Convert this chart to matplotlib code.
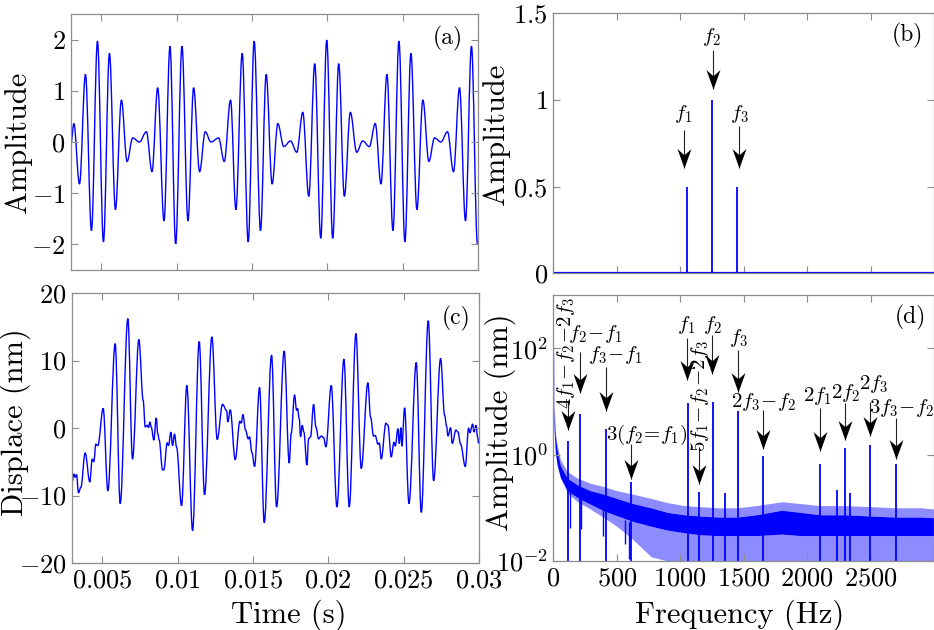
import numpy as np
import matplotlib
matplotlib.use('Agg')
import matplotlib.pyplot as plt
from matplotlib.path import Path
from matplotlib.patches import PathPatch

plt.rcParams['font.family'] = 'serif'
plt.rcParams['font.serif'] = ['cmr10']
plt.rcParams['mathtext.fontset'] = 'cm'
plt.rcParams['axes.unicode_minus'] = False

# ---------------- data ----------------
# (a) input signal: extrema
a_time = [0.00301, 0.003188, 0.003563, 0.00396, 0.004358, 0.004755, 0.005152, 0.00555, 0.005947,
          0.006344, 0.00672, 0.007095, 0.007536, 0.008, 0.008375, 0.00875, 0.00917, 0.009567,
          0.009943, 0.010362, 0.01076, 0.011134, 0.011532, 0.011907, 0.012283, 0.01279, 0.013166,
          0.013585, 0.013938, 0.014358, 0.014755, 0.015152, 0.015572, 0.015947, 0.016344, 0.01672,
          0.017117, 0.017558, 0.017978, 0.018375, 0.018773, 0.01917, 0.019567, 0.019965, 0.020362,
          0.02076, 0.021135, 0.021532, 0.021952, 0.022349, 0.02279, 0.023187, 0.023563, 0.02396,
          0.024358, 0.024755, 0.025152, 0.02555, 0.025947, 0.026344, 0.026742, 0.027117, 0.027536,
          0.027978, 0.028375, 0.028773, 0.02917, 0.029567, 0.029964]
a_value = [0.0, 0.36, -0.82, 1.32, -1.73, 1.97, -1.95, 1.73, -1.32, 0.82, -0.38, 0.08, 0.0, 0.2,
           -0.58, 1.06, -1.54, 1.87, -1.99, 1.87, -1.54, 1.06, -0.58, 0.2, 0.0, 0.08, -0.38, 0.82,
           -1.32, 1.73, -1.95, 1.97, -1.73, 1.32, -0.82, 0.36, -0.09, 0.02, -0.2, 0.58, -1.06, 1.53,
           -1.88, 1.99, -1.88, 1.53, -1.06, 0.58, -0.2, 0.02, -0.09, 0.36, -0.82, 1.32, -1.73, 1.97,
           -1.95, 1.73, -1.32, 0.82, -0.38, 0.08, 0.0, 0.2, -0.58, 1.06, -1.54, 1.87, -1.99]

# (b) input spectrum
b_freq = [1050, 1250, 1450]
b_amp = [0.5, 1.0, 0.5]

c_time = [0.003011, 0.003122, 0.00321, 0.003299, 0.003432, 0.003587, 0.003874, 0.004184, 0.004338,
          0.004449, 0.004582, 0.004715, 0.005069, 0.005378, 0.005865, 0.006197, 0.006705, 0.007015,
          0.007435, 0.007723, 0.007856, 0.007988, 0.008077, 0.008165, 0.008254, 0.008431, 0.008585,
          0.008696, 0.008785, 0.009006, 0.009094, 0.009315, 0.009404, 0.009559, 0.009669, 0.009802,
          0.009935, 0.010267, 0.01062, 0.010997, 0.011439, 0.011793, 0.012279, 0.012633, 0.012987,
          0.013253, 0.013341, 0.013496, 0.013827, 0.014137, 0.014226, 0.014336, 0.014514, 0.01469,
          0.014779, 0.014934, 0.015111, 0.015443, 0.015752, 0.016239,
          0.016571, 0.017079, 0.017411, 0.017543, 0.017765, 0.017898, 0.017964, 0.018074, 0.018163,
          0.018273, 0.018384, 0.018583, 0.018694, 0.018827, 0.019026, 0.01918, 0.019358, 0.019534,
          0.019689, 0.019844, 0.020198, 0.020574, 0.021038, 0.021392, 0.021835, 0.022188, 0.022631,
          0.022808, 0.023007, 0.023117, 0.023295, 0.023383, 0.023516, 0.023825, 0.023958, 0.024179,
          0.024356, 0.024445, 0.024622, 0.02471, 0.024821, 0.024887, 0.025064, 0.025352, 0.025838,
          0.02617, 0.026634, 0.026989, 0.027453, 0.027719, 0.027852, 0.02794, 0.028117, 0.028227,
          0.02847, 0.028603, 0.02878, 0.029089, 0.029311, 0.0294, 0.029577, 0.029665, 0.029798,
          0.029908, 0.029975]
c_value = [-8.0, -6.8, -7.3, -6.9, -9.6, -8.8, -3.7, -8.0, -4.6,
           -5.0, -2.4, -2.6, 2.9, -9.3, 12.5, -11.2, 16.2, -4.6,
           13.1, 4.1, 0.15, 0.4, 0.05, 0.9, 0.15, -1.8, 1.5,
           -0.9, -1.8, -6.2, -6.2, -2.2, -2.6, -0.6, -2.6, -0.9,
           -2.8, -11.5, 6.3, -15.2, 12.8, -9.9, 13.5, -1.7, 3.5,
           2.6, 0.9, 2.7, -4.7, 1.0, 0.7, 2.0, -0.3, -1.6,
           -1.3, -3.6, -5.7, 6.0, -14.0, 10.8,
           -11.7, 11.4, -5.2, -0.8, 4.9, 2.6, 2.9, 1.4, -1.3,
           0.4, -0.6, -5.5, -1.6, -1.3, 3.5, 0.15, -1.6, -1.2,
           -1.4, -2.8, 6.3, -11.7, 10.2, -11.7, 14.0, -6.0, 6.7,
           1.6, -1.2, -1.1, -2.4, -2.2, -4.6, 0.7, 0.4, -4.3,
           -2.1, -2.7, -0.1, -2.3, 0.05, -2.7, 3.0, -11.2, 9.7,
           -12.5, 15.9, -7.8, 10.3, 1.9, 0.25, -1.2, 0.05, -2.3,
           -0.3, -0.6, -2.4, -5.7, 0.0, -0.7, 0.6, -0.6, 0.4,
           -1.3, -2.3]

# (d) measured spectrum: discrete peaks, a few deep dips and the noise-floor envelopes
d_peak_freq = [112, 209, 414, 608, 1058, 1151, 1255, 1352, 1457, 1654, 2102, 2238, 2301, 2340, 2498, 2700]
d_peak_amp = [1.8, 5.9, 3.0, 0.31, 9.3, 0.2, 9.6, 0.19, 6.5, 0.95, 0.66, 0.22, 1.33, 0.19, 1.5, 0.67]
d_dip_freq = [130, 215, 388, 563, 597]
d_dip_low = [0.042, 0.04, 0.03, 0.021, 0.011]
d_dip_high = [0.2, 0.15, 0.09, 0.06, 0.055]
noise_freq = [0, 5, 15, 30, 55, 110, 190, 290, 400, 500, 630, 770, 900, 1030, 1160, 1300, 1450,
              1600, 1800, 1950, 2100, 2300, 2500, 2700, 2900, 3000]
noise_peak = [220, 9.0, 2.6, 1.5, 0.8, 0.48, 0.36, 0.29, 0.25, 0.21, 0.18, 0.15, 0.125, 0.11,
              0.105, 0.1, 0.1, 0.11, 0.13, 0.12, 0.11, 0.11, 0.105, 0.1, 0.1, 0.095]
noise_top = [220, 7.9, 2.2, 1.2, 0.62, 0.36, 0.27, 0.21, 0.18, 0.15, 0.12, 0.1, 0.082, 0.074,
             0.07, 0.067, 0.067, 0.074, 0.09, 0.082, 0.074, 0.074, 0.07, 0.067, 0.067, 0.065]
noise_dense_low = [50, 3.2, 1.1, 0.63, 0.37, 0.21, 0.155, 0.117, 0.087, 0.071, 0.055, 0.045, 0.038,
                   0.034, 0.031, 0.03, 0.03, 0.03, 0.032, 0.03, 0.03, 0.03, 0.03, 0.03, 0.03, 0.03]
noise_min = [50, 3.2, 1.1, 0.63, 0.37, 0.19, 0.13, 0.095, 0.065, 0.045, 0.025, 0.012, 0.01, 0.01,
             0.01, 0.01, 0.01, 0.01, 0.01, 0.01, 0.01, 0.01, 0.01, 0.01, 0.01, 0.01]

time_ticks = [0.005, 0.01, 0.015, 0.02, 0.025, 0.03]
time_ticklabels = ['0.005', '0.01', '0.015', '0.02', '0.025', '0.03']
a_yticks = [-2, -1, 0, 1, 2]
b_yticks = [0, 0.5, 1, 1.5]
b_yticklabels = ['0', '0.5', '1', '1.5']
c_yticks = [-20, -10, 0, 10, 20]
freq_ticks = [0, 500, 1000, 1500, 2000, 2500]
d_yticks = [1e-2, 1e0, 1e2]
d_yticklabels = ['$10^{-2}$', '$10^{0}$', '$10^{2}$']

# ---------------- figure ----------------
W, H = 934, 630
fig = plt.figure(figsize=(W / 100, H / 100), dpi=100)

def box(l, t, r, b):
    return [l / W, 1 - b / H, (r - l) / W, (b - t) / H]

ax_a = fig.add_axes(box(71, 14, 478, 270))
ax_b = fig.add_axes(box(553.4, 13.3, 934, 273.3))
ax_c = fig.add_axes(box(72, 293, 479, 563))
ax_d = fig.add_axes(box(553.4, 295, 934, 561))

BLUE = '#0000ff'
SPINE = '#8c8c8c'
TICKFS = 19
LABELFS = 22
PANELFS = 17
ANNFS = 15

def num(v):
    return '$' + ('%g' % v) + '$'

for ax in (ax_a, ax_b, ax_c, ax_d):
    for s in ax.spines.values():
        s.set_color(SPINE)
        s.set_linewidth(0.9)
    ax.tick_params(direction='in', length=5, width=0.8, color=SPINE, labelcolor='black',
                   labelsize=TICKFS, top=True, right=True, pad=4)
    ax.minorticks_off()

def smooth_path(x, y, k=0.36):
    """Path through the read extrema, drawn with horizontal tangents at each point."""
    verts = [(x[0], y[0])]
    codes = [Path.MOVETO]
    for i in range(1, len(x)):
        dx = x[i] - x[i - 1]
        verts += [(x[i - 1] + k * dx, y[i - 1]), (x[i] - k * dx, y[i]), (x[i], y[i])]
        codes += [Path.CURVE4] * 3
    return Path(verts, codes)

# arrow head (stealth-like), tip at the origin, pointing down
HEAD = Path([(0, 0), (-0.36, 1.0), (0, 0.68), (0.36, 1.0), (0, 0)],
            [Path.MOVETO, Path.LINETO, Path.LINETO, Path.LINETO, Path.CLOSEPOLY])

def down_arrow(ax, x, y0, y1):
    ax.plot([x, x], [y0, y1], color='#222222', lw=0.8, solid_capstyle='butt')
    ax.plot([x], [y1], marker=HEAD, markersize=28, color='black', markeredgewidth=0, linestyle='none')

# (a)
ax_a.add_patch(PathPatch(smooth_path(a_time, a_value), fill=False, edgecolor=BLUE, lw=1.0))
ax_a.set_xlim(0.003, 0.03)
ax_a.set_ylim(-2.5, 2.5)
ax_a.set_xticks(time_ticks)
ax_a.set_xticklabels([])
ax_a.set_yticks(a_yticks)
ax_a.set_yticklabels([num(v) for v in a_yticks])
ax_a.set_ylabel('Amplitude', fontsize=LABELFS)
ax_a.yaxis.set_label_coords(-0.096, 0.5)
ax_a.text(0.927, 0.905, '(a)', transform=ax_a.transAxes, ha='center', va='center', fontsize=PANELFS)

# (b)
ax_b.axhline(0, color=BLUE, lw=1.6)
ax_b.vlines(b_freq, 0, b_amp, color=BLUE, lw=1.3)
ax_b.set_xlim(0, 3000)
ax_b.set_ylim(0, 1.5)
ax_b.set_xticks(freq_ticks)
ax_b.set_xticklabels([])
ax_b.set_yticks(b_yticks)
ax_b.set_yticklabels(['$' + s + '$' for s in b_yticklabels])
ax_b.set_ylabel('Amplitude', fontsize=LABELFS)
ax_b.yaxis.set_label_coords(-0.114, 0.536)
ax_b.text(0.929, 0.913, '(b)', transform=ax_b.transAxes, ha='center', va='center', fontsize=PANELFS)

b_ann = [('$f_1$', (1026, 0.92), 1027, 0.826, 0.606),
         ('$f_2$', (1242, 1.365), 1257, 1.288, 1.062),
         ('$f_3$', (1464, 0.92), 1462, 0.85, 0.606)]
for txt, pos, ax_x, y0, y1 in b_ann:
    ax_b.text(pos[0], pos[1], txt, ha='center', va='center', fontsize=ANNFS)
    down_arrow(ax_b, ax_x, y0, y1)

# (c)
ax_c.add_patch(PathPatch(smooth_path(c_time, c_value), fill=False, edgecolor=BLUE, lw=1.0))
ax_c.set_xlim(0.003, 0.03)
ax_c.set_ylim(-20, 20)
ax_c.set_xticks(time_ticks)
ax_c.set_xticklabels(['$' + s + '$' for s in time_ticklabels])
ax_c.set_yticks(c_yticks)
ax_c.set_yticklabels([num(v) for v in c_yticks])
ax_c.set_ylabel('Displace (nm)', fontsize=LABELFS)
ax_c.yaxis.set_label_coords(-0.101, 0.522)
ax_c.set_xlabel('Time (s)', fontsize=LABELFS, va='center')
ax_c.xaxis.set_label_coords(0.533, -0.193)
ax_c.text(0.943, 0.907, '(c)', transform=ax_c.transAxes, ha='center', va='center', fontsize=PANELFS)

# (d)
ax_d.set_yscale('log')
ax_d.fill_between(noise_freq, noise_min, noise_dense_low, color=BLUE, alpha=0.45, lw=0)
ax_d.fill_between(noise_freq, noise_top, noise_peak, color=BLUE, alpha=0.45, lw=0)
ax_d.fill_between(noise_freq, noise_dense_low, noise_top, color=BLUE, lw=0)
ax_d.vlines(d_dip_freq, d_dip_low, d_dip_high, color=BLUE, lw=1.0)
ax_d.vlines(d_peak_freq, 1e-2, d_peak_amp, color=BLUE, lw=1.3)
ax_d.set_xlim(0, 3000)
ax_d.set_ylim(1e-2, 1e3)
ax_d.set_xticks(freq_ticks)
ax_d.set_xticklabels([num(v) for v in freq_ticks])
ax_d.set_yticks(d_yticks)
ax_d.set_yticklabels(d_yticklabels)
ax_d.minorticks_off()
ax_d.set_ylabel('Amplitude (nm)', fontsize=LABELFS)
ax_d.yaxis.set_label_coords(-0.098, 0.523)
ax_d.set_xlabel('Frequency (Hz)', fontsize=LABELFS, va='center')
ax_d.xaxis.set_label_coords(0.488, -0.203)
ax_d.text(0.937, 0.917, '(d)', transform=ax_d.transAxes, ha='center', va='center', fontsize=PANELFS)

d_ann = [(r'$4f_1\!-\!f_2\!-\!2f_3$', (97, 80), 90, 112, 10.4, 2.84),
         (r'$f_2\!-\!f_1$', (327, 183), 0, 209, 84, 14.1),
         (r'$f_3\!-\!f_1$', (484, 74), 0, 414, 43.7, 6.6),
         (r'$3(f_2\!=\!f_1)$', (734, 2.38), 0, 608, 1.59, 0.348),
         (r'$f_1$', (1048, 272), 0, 1056, 154, 24.9),
         (r'$f_2$', (1251, 272), 0, 1252, 176, 33.3),
         (r'$f_3$', (1460, 154), 0, 1457, 91.7, 15.0),
         (r'$5f_1\!-\!f_2\!-\!2f_3$', (1153, 12.4), 90, 1147, 1.36, 0.28),
         (r'$2f_3\!-\!f_2$', (1656, 9.6), 0, 1654, 6.8, 1.28),
         (r'$2f_1$', (2077, 12.4), 0, 2102, 7.4, 1.19),
         (r'$2f_2$', (2300, 14.2), 0, 2301, 9.2, 1.89),
         (r'$2f_3$', (2522, 21), 0, 2498, 9.7, 2.28),
         (r'$3f_3\!-\!f_2$', (2742, 7.4), 0, 2700, 4.78, 0.83)]
for txt, pos, rot, ax_x, y0, y1 in d_ann:
    ax_d.text(pos[0], pos[1], txt, ha='center', va='center', rotation=rot, fontsize=ANNFS)
    down_arrow(ax_d, ax_x, y0, y1)

fig.savefig('out.png', dpi=100)
